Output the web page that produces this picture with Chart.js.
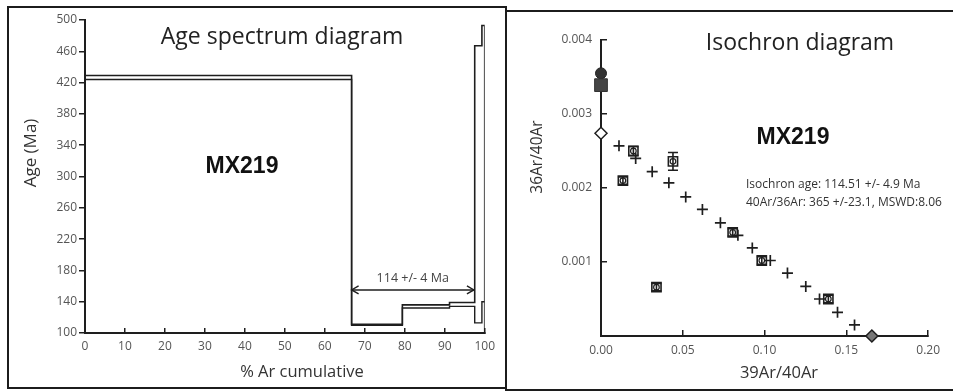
<!DOCTYPE html>
<html>
<head>
<meta charset="utf-8">
<script src="https://cdn.jsdelivr.net/npm/chart.js@4.4.1/dist/chart.umd.min.js"></script>
<style>
  html, body { margin: 0; padding: 0; background: #fff; }
  body { width: 953px; height: 392px; position: relative; overflow: hidden; }
  .box { position: absolute; border: 2px solid #1c1c1c; box-sizing: border-box; }
  #boxL { left: 7px; top: 6px; width: 500px; height: 383px; }
  #boxR { left: 505px; top: 10px; width: 470px; height: 381px; }
  canvas { position: absolute; top: 0; }
  #cL { left: 0; }
  #cR { left: 506px; }
</style>
</head>
<body>
<div class="box" id="boxL"></div>
<div class="box" id="boxR"></div>
<canvas id="cL" width="506" height="392"></canvas>
<canvas id="cR" width="447" height="392"></canvas>
<script>
// Age spectrum: step edges (% 39Ar cumulative) and box top/bottom ages (Ma)
const stepEdges = [0, 66.7, 79.4, 91.2, 97.5, 99.3, 100];
const ageHigh = [429, 111, 136, 139, 467, 493];
const ageLow = [424, 110, 132, 134, 113, 140];
const plateauX = [66.7, 97.3];
const plateauAge = 155;
const plateauLabel = '114 +/- 4 Ma';
const ageTicks = { min: 100, max: 500, step: 40 };
const cumTicks = { min: 0, max: 100, step: 10 };

// Isochron: 39Ar/40Ar vs 36Ar/40Ar
const crossX = [0.0110, 0.0212, 0.0313, 0.0415, 0.0518, 0.0620, 0.0730, 0.0837, 0.0925, 0.1035, 0.1140, 0.1252, 0.1336, 0.1446, 0.1550];
const crossY = [0.00257, 0.00240, 0.00222, 0.00207, 0.00188, 0.00171, 0.00153, 0.00136, 0.00119, 0.00102, 0.00085, 0.00067, 0.00050, 0.00032, 0.00015];
const squareX = [0.0134, 0.0198, 0.0440, 0.0805, 0.0983, 0.1390, 0.0339];
const squareY = [0.00210, 0.00250, 0.00236, 0.00140, 0.00102, 0.00050, 0.00066];
const squareErr = [0.00005, 0.00006, 0.00012, 0.00005, 0.00005, 0.00005, 0.00005];
const atmCircle = [0, 0.00355];
const atmSquare = [0, 0.00339];
const interceptY = [0, 0.00274];
const interceptX = [0.1656, 0];
const isoText = ['Isochron age: 114.51 +/- 4.9 Ma', '40Ar/36Ar: 365 +/-23.1, MSWD:8.06'];

Chart.defaults.font.family = "'Open Sans', sans-serif";
const ink = '#1e1e1e';
const tickInk = '#555';

function stepPoints(ages, dropTo) {
  const pts = ages.map((a, i) => ({ x: stepEdges[i], y: a }));
  pts.push({ x: stepEdges[stepEdges.length - 1], y: ages[ages.length - 1] });
  if (dropTo != null) pts.push({ x: stepEdges[stepEdges.length - 1], y: dropTo });
  return pts;
}

function txt(ctx, s, x, y, font, color, align, rot) {
  ctx.save();
  ctx.font = font;
  ctx.fillStyle = color;
  ctx.textAlign = align || 'center';
  ctx.textBaseline = 'middle';
  ctx.translate(x, y);
  if (rot) ctx.rotate(rot);
  ctx.fillText(s, 0, 0);
  ctx.restore();
}

const leftDeco = {
  id: 'leftDeco',
  afterDraw(chart) {
    const { ctx, scales } = chart;
    const pts = chart.getDatasetMeta(2).data;
    ctx.save();
    ctx.strokeStyle = ink;
    ctx.lineWidth = 1.4;
    ctx.beginPath();
    ctx.moveTo(pts[0].x + 7, pts[0].y - 4); ctx.lineTo(pts[0].x, pts[0].y); ctx.lineTo(pts[0].x + 7, pts[0].y + 4);
    ctx.moveTo(pts[1].x - 7, pts[1].y - 4); ctx.lineTo(pts[1].x, pts[1].y); ctx.lineTo(pts[1].x - 7, pts[1].y + 4);
    ctx.stroke();
    ctx.restore();
    const lx = scales.x.getPixelForValue((plateauX[0] + plateauX[1]) / 2);
    txt(ctx, plateauLabel, lx, pts[0].y - 12, "12.5px 'Open Sans'", '#444');
    txt(ctx, 'Age spectrum diagram', 282, 37, "23px 'Open Sans'", '#222');
    txt(ctx, 'MX219', 242, 167, "bold 23px 'Liberation Sans'", '#111');
    txt(ctx, 'Age (Ma)', 31, 153, "17px 'Open Sans'", '#333', 'center', -Math.PI / 2);
    txt(ctx, '% Ar cumulative', 302, 372, "16.5px 'Open Sans'", '#333');
  }
};

const rightDeco = {
  id: 'rightDeco',
  afterDatasetsDraw(chart) {
    const { ctx, scales } = chart;
    const pts = chart.getDatasetMeta(1).data;
    ctx.save();
    ctx.strokeStyle = ink;
    ctx.lineWidth = 1.6;
    pts.forEach((p, i) => {
      const y1 = scales.y.getPixelForValue(squareY[i] + squareErr[i]);
      const y2 = scales.y.getPixelForValue(squareY[i] - squareErr[i]);
      ctx.beginPath();
      ctx.moveTo(p.x, y1); ctx.lineTo(p.x, y2);
      ctx.moveTo(p.x - 5, y1); ctx.lineTo(p.x + 5, y1);
      ctx.moveTo(p.x - 5, y2); ctx.lineTo(p.x + 5, y2);
      ctx.stroke();
    });
    ctx.restore();
  },
  afterDraw(chart) {
    const ctx = chart.ctx;
    txt(ctx, 'Isochron diagram', 294, 43, "23px 'Open Sans'", '#222');
    txt(ctx, 'MX219', 287, 138, "bold 23px 'Liberation Sans'", '#111');
    txt(ctx, isoText[0], 240, 185, "12px 'Open Sans'", '#333', 'left');
    txt(ctx, isoText[1], 240, 203, "12px 'Open Sans'", '#333', 'left');
    txt(ctx, '36Ar/40Ar', 32, 157, "15.5px 'Open Sans'", '#333', 'center', -Math.PI / 2);
    txt(ctx, '39Ar/40Ar', 273, 373, "16.5px 'Open Sans'", '#333');
  }
};

new Chart(document.getElementById('cL'), {
  type: 'line',
  data: {
    datasets: [
      { data: stepPoints(ageHigh, ageTicks.min), stepped: true, borderColor: ink, borderWidth: 1.6, pointRadius: 0 },
      { data: stepPoints(ageLow), stepped: true, borderColor: ink, borderWidth: 1.4, pointRadius: 0 },
      { data: plateauX.map((x) => ({ x, y: plateauAge })), borderColor: ink, borderWidth: 1.4, pointRadius: 0 }
    ]
  },
  options: {
    responsive: false, animation: false,
    layout: { padding: { left: 0, right: 13, top: 20, bottom: 0 } },
    plugins: { legend: { display: false }, tooltip: { enabled: false } },
    scales: {
      x: {
        type: 'linear', min: cumTicks.min, max: cumTicks.max,
        ticks: { stepSize: cumTicks.step, padding: 11, color: tickInk, font: { size: 12 } },
        grid: { drawOnChartArea: false, tickLength: -5, color: ink, lineWidth: 1.5 },
        border: { color: ink, width: 2 },
        afterFit(s) { s.height = 59; }
      },
      y: {
        min: ageTicks.min, max: ageTicks.max,
        ticks: { stepSize: ageTicks.step, padding: 2, color: tickInk, font: { size: 12 } },
        grid: { drawOnChartArea: false, tickLength: 6, color: ink, lineWidth: 1.5 },
        border: { color: ink, width: 2 },
        afterFit(s) { s.width = 85; }
      }
    }
  },
  plugins: [leftDeco]
});

new Chart(document.getElementById('cR'), {
  type: 'scatter',
  data: {
    datasets: [
      { data: crossX.map((x, i) => ({ x, y: crossY[i] })), pointStyle: 'cross', pointRadius: 5.5, borderColor: ink, borderWidth: 1.7, order: 1 },
      { data: squareX.map((x, i) => ({ x, y: squareY[i] })), pointStyle: 'rect', pointRadius: 6.5, backgroundColor: '#fff', borderColor: ink, borderWidth: 1.6, order: 2 },
      { data: squareX.map((x, i) => ({ x, y: squareY[i] })), pointStyle: 'circle', pointRadius: 2.8, backgroundColor: '#fff', borderColor: ink, borderWidth: 1.2, order: 0 },
      { data: [{ x: atmSquare[0], y: atmSquare[1] }], pointStyle: 'rect', pointRadius: 9, backgroundColor: '#454545', borderColor: '#333', borderWidth: 1, clip: false, order: 4 },
      { data: [{ x: atmCircle[0], y: atmCircle[1] }], pointStyle: 'circle', pointRadius: 5.5, backgroundColor: '#333', borderColor: '#222', borderWidth: 1, clip: false, order: 5 },
      { data: [{ x: interceptY[0], y: interceptY[1] }], pointStyle: 'rectRot', pointRadius: 6, backgroundColor: '#fff', borderColor: ink, borderWidth: 1.5, clip: false, order: 3 },
      { data: [{ x: interceptX[0], y: interceptX[1] }], pointStyle: 'rectRot', pointRadius: 6, backgroundColor: '#777', borderColor: ink, borderWidth: 1.5, clip: false, order: 3 }
    ]
  },
  options: {
    responsive: false, animation: false,
    layout: { padding: { left: 0, right: 19, top: 40, bottom: 0 } },
    plugins: { legend: { display: false }, tooltip: { enabled: false } },
    scales: {
      x: {
        type: 'linear', min: 0, max: 0.2,
        ticks: { stepSize: 0.05, padding: 13, color: tickInk, font: { size: 12 }, callback: (v) => v.toFixed(2) },
        grid: { drawOnChartArea: false, tickLength: -6, color: ink, lineWidth: 1.5 },
        border: { color: ink, width: 2 },
        afterFit(s) { s.height = 56; }
      },
      y: {
        min: 0, max: 0.004,
        ticks: { stepSize: 0.001, padding: 15, color: tickInk, font: { size: 12 }, callback: (v) => (v === 0 ? '' : v.toFixed(3)) },
        grid: { drawOnChartArea: false, tickLength: -6, color: ink, lineWidth: 1.5 },
        border: { color: ink, width: 2 },
        afterFit(s) { s.width = 95; }
      }
    }
  },
  plugins: [rightDeco]
});
</script>
</body>
</html>
